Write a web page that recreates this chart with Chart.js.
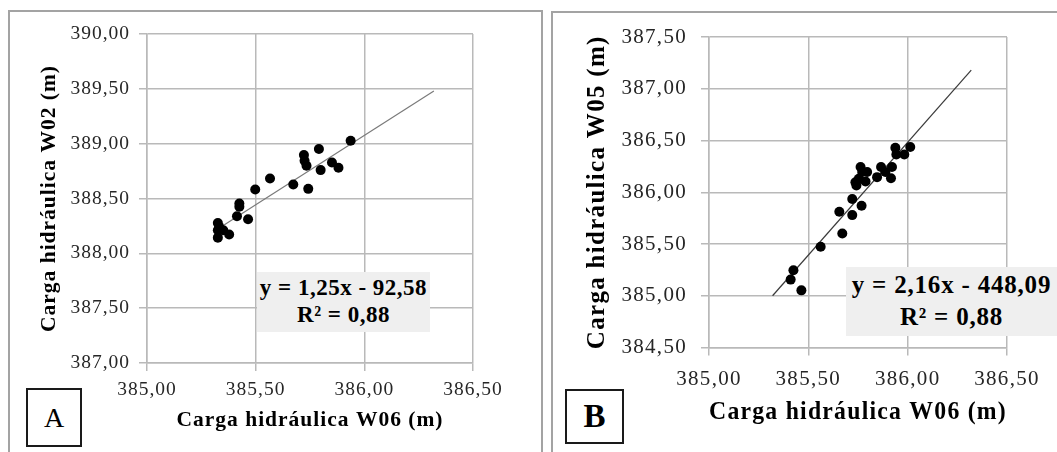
<!DOCTYPE html>
<html><head><meta charset="utf-8">
<script src="https://cdn.jsdelivr.net/npm/chart.js@4/dist/chart.umd.min.js"></script>
<style>
html,body{margin:0;padding:0;background:#fff;width:1057px;height:452px;overflow:hidden;position:relative;font-family:'Liberation Serif',serif;}
.panel{position:absolute;box-sizing:border-box;border:2px solid #a3a3a3;}
#pA{left:8px;top:10px;width:535px;height:480px;}
#pB{left:551px;top:11px;width:560px;height:480px;}
#cA{position:absolute;left:0;top:0;}
#cB{position:absolute;left:545px;top:0;}
.eq{position:absolute;box-sizing:border-box;background:#efefef;font-weight:bold;color:#000;text-align:center;white-space:nowrap;}
#eqA{left:257px;top:272px;width:173px;height:60px;font-size:23px;line-height:27.7px;letter-spacing:0.5px;padding-top:1.5px;}
#eqB{left:846px;top:267px;width:211px;height:69px;font-size:25px;line-height:31.7px;letter-spacing:0.8px;padding-top:2px;}
.lab{position:absolute;box-sizing:border-box;border:2px solid #1a1a1a;display:flex;align-items:center;justify-content:center;color:#000;background:#fff;}
#labA{left:26px;top:388px;width:56px;height:59px;font-size:28px;}
#labB{left:565px;top:389px;width:59px;height:55px;font-size:33px;font-weight:bold;}
</style>
</head><body>
<div class="panel" id="pA"></div>
<div class="panel" id="pB"></div>
<canvas id="cA" width="545" height="452"></canvas>
<canvas id="cB" width="512" height="452"></canvas>
<div class="eq" id="eqA">y = 1,25x - 92,58<br>R² = 0,88</div>
<div class="eq" id="eqB">y = 2,16x - 448,09<br>R² = 0,88</div>
<div class="lab" id="labA">A</div>
<div class="lab" id="labB">B</div>
<script>
// ---- data ----
const xTicks = [385.00, 385.50, 386.00, 386.50];
const yTicksA = [387.00, 387.50, 388.00, 388.50, 389.00, 389.50, 390.00];
const yTicksB = [384.50, 385.00, 385.50, 386.00, 386.50, 387.00, 387.50];

const w06A = [385.326, 385.326, 385.326, 385.332, 385.351, 385.378, 385.414, 385.425, 385.425, 385.465, 385.498, 385.566, 385.673, 385.722, 385.725, 385.734, 385.742, 385.791, 385.799, 385.851, 385.881, 385.937];
const w02  = [388.277, 388.210, 388.143, 388.241, 388.210, 388.171, 388.338, 388.454, 388.424, 388.311, 388.582, 388.683, 388.628, 388.896, 388.845, 388.799, 388.588, 388.951, 388.759, 388.829, 388.780, 389.027];

const w06B = [385.411, 385.425, 385.465, 385.562, 385.656, 385.671, 385.721, 385.721, 385.737, 385.742, 385.763, 385.771, 385.754, 385.768, 385.788, 385.796, 385.846, 385.866, 385.888, 385.916, 385.921, 385.938, 385.943, 385.983, 386.013];
const w05  = [385.156, 385.247, 385.052, 385.474, 385.812, 385.601, 385.935, 385.779, 386.097, 386.065, 386.244, 386.195, 386.130, 385.870, 386.104, 386.195, 386.146, 386.244, 386.195, 386.136, 386.244, 386.429, 386.364, 386.364, 386.438];

const trendAx = [385.34, 386.32];
const trendAy = [388.24, 389.48];
const trendBx = [385.32, 386.32];
const trendBy = [385.00, 387.18];

const titleX = 'Carga hidráulica W06 (m)';
const titleYA = 'Carga hidráulica W02 (m)';
const titleYB = 'Carga hidráulica W05 (m)';

// ---- helpers ----
const fmt = v => Number(v).toFixed(2).replace('.', ',');
const pts = (xs, ys) => xs.map((x, i) => ({x: x, y: ys[i]}));
const FAM = "'Liberation Serif', 'Times New Roman', serif";

function makeChart(id, o) {
  const grid = '#b9b9b9';
  return new Chart(document.getElementById(id), {
    type: 'scatter',
    data: {
      datasets: [
        {data: pts(o.xs, o.ys), backgroundColor: '#000', borderWidth: 0, pointRadius: 5, pointHoverRadius: 5, order: 1},
        {type: 'line', data: pts(o.tx, o.ty), borderColor: o.lineColor, borderWidth: 1.2, pointRadius: 0, showLine: true, fill: false, order: 2}
      ]
    },
    options: {
      responsive: false, animation: false, events: [],
      layout: {padding: o.pad},
      plugins: {legend: {display: false}, tooltip: {enabled: false}},
      scales: {
        x: {
          type: 'linear', min: o.xt[0], max: o.xt[o.xt.length - 1],
          afterBuildTicks: s => { s.ticks = o.xt.map(v => ({value: v})); },
          afterFit: s => { s.height = o.xh; },
          ticks: {callback: v => fmt(v), color: '#262626', font: {family: FAM, size: o.tickSize}, padding: o.xpad, maxRotation: 0, autoSkip: false},
          grid: {color: grid, lineWidth: 1.5, tickLength: 8},
          border: {color: grid, width: 1.5},
          title: {display: true, text: o.titleX, color: '#000', font: {family: FAM, size: o.titleSize, weight: 'bold'}, padding: 0}
        },
        y: {
          type: 'linear', min: o.yt[0], max: o.yt[o.yt.length - 1],
          afterBuildTicks: s => { s.ticks = o.yt.map(v => ({value: v})); },
          afterFit: s => { s.width = o.yw; },
          ticks: {callback: v => fmt(v), color: '#262626', font: {family: FAM, size: o.tickSize}, padding: o.ypad, autoSkip: false},
          grid: {color: grid, lineWidth: 1.5, tickLength: 8},
          border: {color: grid, width: 1.5},
          title: {display: true, text: o.titleY, color: '#000', font: {family: FAM, size: o.titleSize, weight: 'bold'}, padding: 0}
        }
      }
    },
    plugins: [{id: 'spacing', beforeDraw(chart) { chart.ctx.letterSpacing = o.ls + 'px'; }}]
  });
}

makeChart('cA', {
  xs: w06A, ys: w02, tx: trendAx, ty: trendAy, lineColor: '#7a7a7a',
  xt: xTicks, yt: yTicksA, titleX: titleX, titleY: titleYA,
  pad: {left: 37, top: 34, right: 72, bottom: 19},
  yw: 110, xh: 70, xpad: 7, ypad: 9, tickSize: 19.5, titleSize: 21.5, ls: 1
});

makeChart('cB', {
  xs: w06B, ys: w05, tx: trendBx, ty: trendBy, lineColor: '#3a3a3a',
  xt: xTicks, yt: yTicksB, titleX: titleX, titleY: titleYB,
  pad: {left: 38, top: 37, right: 50, bottom: 24},
  yw: 126, xh: 80.5, xpad: 11, ypad: 14, tickSize: 21, titleSize: 25, ls: 1.3
});
</script>
</body></html>
